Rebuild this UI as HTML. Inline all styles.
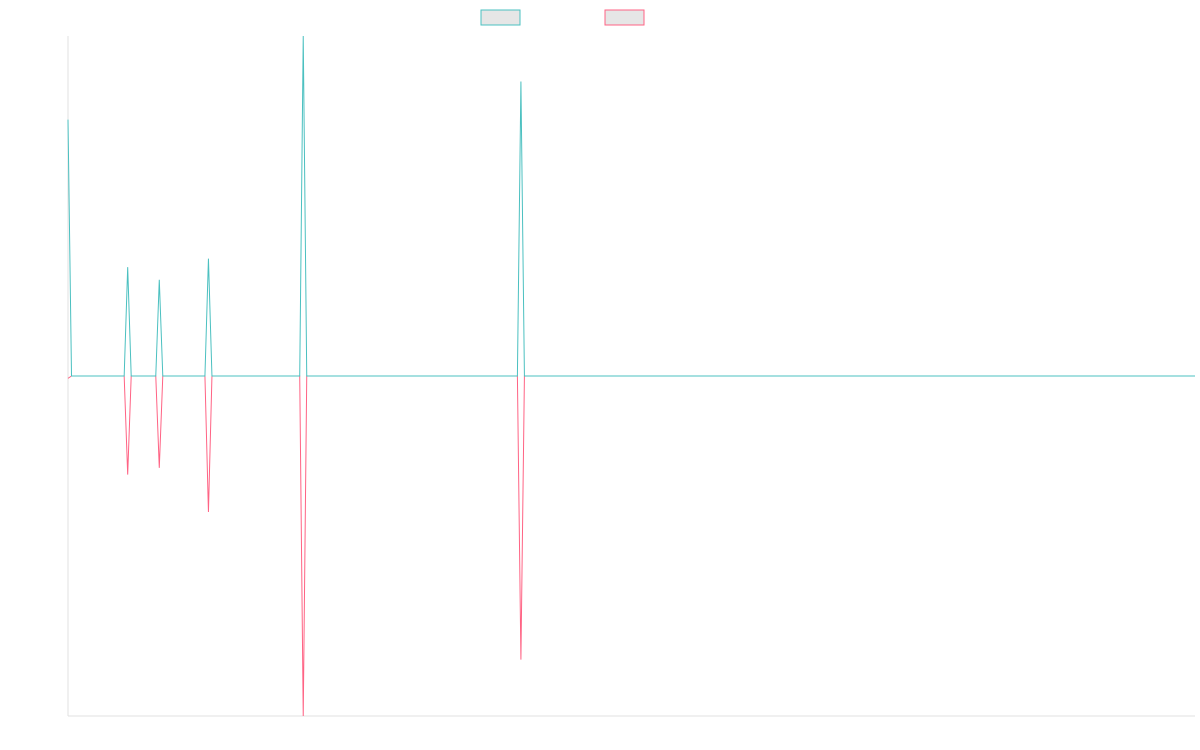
<!DOCTYPE html>
<html><head><meta charset="utf-8"><style>
html,body{margin:0;padding:0;background:#fff;width:1200px;height:750px;overflow:hidden}
svg{display:block}
</style></head><body>
<svg id="chart" width="1200" height="750">
  <rect x="481" y="10" width="39" height="15" fill="#e6e6e6" stroke="#4bc0c0" stroke-width="1"/>
  <rect x="605" y="10" width="39" height="15" fill="#e6e6e6" stroke="#ff6384" stroke-width="1"/>
  <line x1="68" y1="36" x2="68" y2="716" stroke="#e0e0e0"/>
  <line x1="68" y1="716" x2="1195" y2="716" stroke="#e0e0e0"/>
  <g id="series"></g>
</svg>
<script>
const pointCount = 322;
const spikeIndices = [0, 17, 26, 40, 67, 129];
const seriesAValues = [75.4, 32, 28.3, 34.5, 100, 86.6];
const seriesBValues = [-0.7, -29, -27, -40, -100, -83.4];
const yMin = -100, yMax = 100;

const plotLeft = 68, plotRight = 1195, plotTop = 36, plotBottom = 716;
function xScale(i){ return plotLeft + i * (plotRight - plotLeft) / (pointCount - 1); }
function yScale(v){ return plotBottom - (v - yMin) / (yMax - yMin) * (plotBottom - plotTop); }

function buildSeries(vals){
  const arr = new Array(pointCount).fill(0);
  spikeIndices.forEach((idx, k) => { arr[idx] = vals[k]; });
  return arr;
}
const seriesGroup = document.getElementById('series');
function drawLine(vals, color, name){
  const data = buildSeries(vals);
  const pts = data.map((v, i) => xScale(i).toFixed(2) + ',' + yScale(v).toFixed(2)).join(' ');
  const pl = document.createElementNS('http://www.w3.org/2000/svg', 'polyline');
  pl.setAttribute('points', pts);
  pl.setAttribute('fill', 'none');
  pl.setAttribute('stroke', color);
  pl.setAttribute('stroke-width', '1');
  
  
  seriesGroup.appendChild(pl);
}
drawLine(seriesBValues, '#ff6384', 'series-b-line');
drawLine(seriesAValues, '#4bc0c0', 'series-a-line');
</script>
</body></html>
